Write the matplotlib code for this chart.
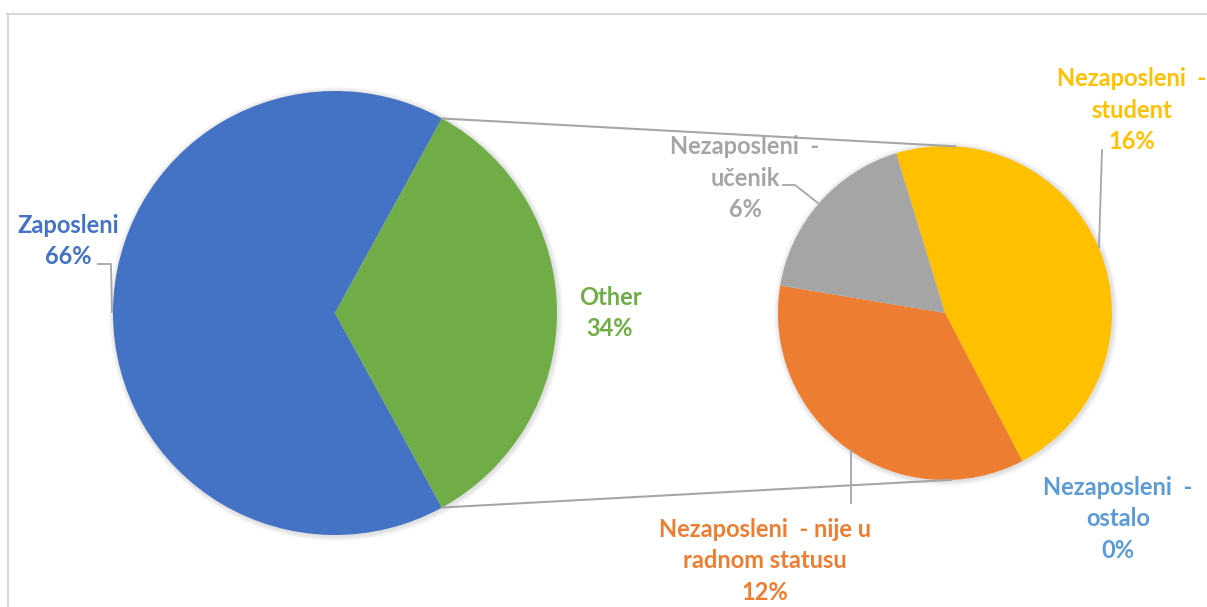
import numpy as np
import matplotlib
matplotlib.use("Agg")
import matplotlib.pyplot as plt

# data
main_labels = ["Zaposleni", "Other"]
main_values = [66, 34]
main_colors = ["#4472C4", "#70AD47"]

sub_labels = ["Nezaposleni  -\nstudent", "Nezaposleni  - nije u\nradnom statusu",
              "Nezaposleni  -\nučenik", "Nezaposleni  -\nostalo"]
sub_values = [16, 12, 6, 0]
sub_colors = ["#FFC000", "#ED7D31", "#A5A5A5", "#5B9BD5"]

W, H = 1207, 607
LEFT_C, LEFT_R = (335, H - 313), 222
RIGHT_C, RIGHT_R = (945, H - 313), 167
LINE_GRAY = "#A6A6A6"

plt.rcParams["font.family"] = ["Lato", "DejaVu Sans"]

fig = plt.figure(figsize=(W / 100, H / 100), dpi=100)
ax = fig.add_axes([0, 0, 1, 1])


def soft_shadow(center, r):
    for k in range(1, 6):
        c = plt.Circle((center[0] + 1, center[1] - 1), r + k, color="black",
                       alpha=0.025, lw=0, zorder=0)
        ax.add_patch(c)


soft_shadow(LEFT_C, LEFT_R)
soft_shadow(RIGHT_C, RIGHT_R)

half = 360 * main_values[1] / sum(main_values) / 2
ax.pie(main_values, colors=main_colors, center=LEFT_C, radius=LEFT_R,
       startangle=half, counterclock=True,
       wedgeprops=dict(linewidth=0), frame=True)
ax.pie(sub_values, colors=sub_colors, center=RIGHT_C, radius=RIGHT_R,
       startangle=107, counterclock=False,
       wedgeprops=dict(linewidth=0), frame=True)

# connector lines between the pies
def on_circle(center, r, ang):
    a = np.deg2rad(ang)
    return center[0] + r * np.cos(a), center[1] + r * np.sin(a)

p1 = on_circle(LEFT_C, LEFT_R, half)
p2 = on_circle(LEFT_C, LEFT_R, -half)
q1 = on_circle(RIGHT_C, RIGHT_R, 86.5)
q2 = on_circle(RIGHT_C, RIGHT_R, -88)
ax.plot([p1[0], q1[0]], [p1[1], q1[1]], color=LINE_GRAY, lw=1.5, zorder=1)
ax.plot([p2[0], q2[0]], [p2[1], q2[1]], color=LINE_GRAY, lw=1.5, zorder=3)

# leader lines
def leader(xs, ys):
    ax.plot(xs, [H - y for y in ys], color=LINE_GRAY, lw=1.3, zorder=3)

leader([98, 111, 112], [264, 264, 312])
leader([783, 795, 818], [185, 185, 203])
leader([1102, 1099], [150, 247])
leader([851, 851], [450, 503])

# data labels
def label(x, y, name, val, color):
    ax.text(x, H - y, f"{name}\n{val}%", ha="center", va="center", color=color,
            fontsize=17, fontweight="bold", linespacing=1.45, zorder=5)

label(68, 241, main_labels[0], main_values[0], main_colors[0])
label(610, 313, main_labels[1], main_values[1], main_colors[1])
label(1132, 110, sub_labels[0], sub_values[0], sub_colors[0])
label(765, 561, sub_labels[1], sub_values[1], sub_colors[1])
label(745, 178, sub_labels[2], sub_values[2], sub_colors[2])
label(1118, 519, sub_labels[3], sub_values[3], sub_colors[3])

# chart frame (only top and left edges visible)
ax.plot([7, W], [H - 14, H - 14], color="#D9D9D9", lw=1.5, zorder=6)
ax.plot([8, 8], [H - 14, 0], color="#D9D9D9", lw=1.5, zorder=6)

ax.set_xlim(0, W)
ax.set_ylim(0, H)
ax.set_aspect("auto")
ax.axis("off")

fig.savefig("out.png", dpi=100, facecolor="white")
